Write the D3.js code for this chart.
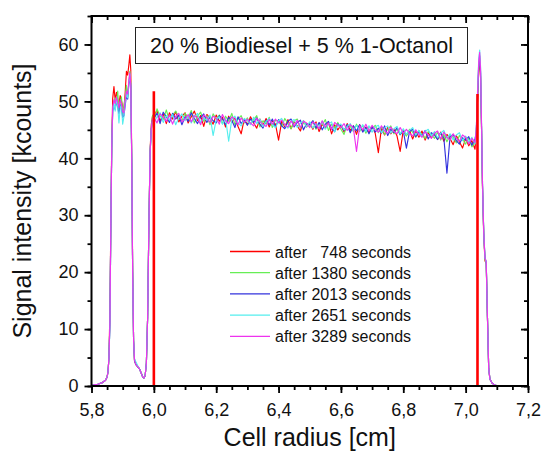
<!DOCTYPE html>
<html><head><meta charset="utf-8">
<script src="https://cdn.jsdelivr.net/npm/d3@7"></script>
<style>body{margin:0;background:#fff}svg{display:block}text{font-family:Arial,"Liberation Sans",sans-serif;fill:#111}</style>
</head><body><svg id="c" width="544" height="456"></svg>
<script>
// ---- data ----
const radius = [
5.800,5.820,5.835,5.845,5.850,5.853,5.856,5.859,5.862,5.865,5.868,5.872,5.876,5.880,5.884,5.888,5.892,5.896,5.900,5.904,5.908,5.912,5.916,5.920,5.923,5.926,5.929,5.932,5.935,5.938,5.942,5.948,5.954,5.960,5.964,5.968,5.972,5.976,5.980,5.984,5.988,5.992,5.996,
6.00,6.01,6.02,6.03,6.04,6.05,6.06,6.07,6.08,6.09,6.10,6.11,6.12,6.13,6.14,6.15,6.16,6.17,6.18,6.19,6.20,6.21,6.22,6.23,6.24,6.25,6.26,6.27,6.28,6.29,6.30,6.31,6.32,6.33,6.34,6.35,6.36,6.37,6.38,6.39,6.40,6.41,6.42,6.43,6.44,6.45,6.46,6.47,6.48,6.49,6.50,6.51,6.52,6.53,6.54,6.55,6.56,6.57,6.58,6.59,6.60,6.61,6.62,6.63,6.64,6.65,6.66,6.67,6.68,6.69,6.70,6.71,6.72,6.73,6.74,6.75,6.76,6.77,6.78,6.79,6.80,6.81,6.82,6.83,6.84,6.85,6.86,6.87,6.88,6.89,6.90,6.91,6.92,6.93,6.94,6.95,6.96,6.97,6.98,6.99,7.00,7.01,7.02,7.03,
7.034,7.038,7.042,7.045,7.048,7.051,7.054,7.058,7.062,7.066,7.070,7.074,7.078,7.085,7.095,7.110];

const s748 = [
0.1,0.3,0.6,1.0,1.6,2.5,5.0,13.0,28.5,43.0,50.5,52.6,50.2,51.6,50.4,49.5,51.0,50.2,49.0,48.6,51.5,55.3,54.6,56.5,58.2,55.5,40.5,20.5,8.0,4.5,3.8,3.4,3.0,2.2,1.6,1.4,1.8,4.0,12.0,28.0,41.5,46.0,47.5,
47.5,48.4,46.5,47.8,46.1,48.0,46.9,48.2,46.4,47.4,
48.0,46.2,47.3,48.3,46.6,47.5,45.6,47.7,47.0,46.0,
47.6,46.5,47.2,45.5,47.4,46.3,47.1,45.6,44.3,46.9,
45.9,47.3,46.2,45.3,46.9,45.8,47.0,45.5,46.6,46.0,
43.2,46.5,45.5,46.8,45.2,46.4,45.7,44.8,46.6,45.5,
46.2,45.1,46.4,44.7,46.0,45.3,46.3,44.3,45.9,45.0,
45.8,44.6,46.1,44.9,45.7,44.2,45.9,44.8,45.5,44.5,
45.6,44.4,41.0,45.3,44.1,45.4,44.3,45.1,43.9,41.2,
45.0,44.0,44.9,43.4,44.7,43.7,44.8,43.2,44.5,43.6,
44.4,43.3,44.6,43.0,44.2,43.5,42.4,44.0,42.9,41.8,
43.5,42.2,43.1,41.6,
44.0,50.0,55.5,57.0,54.0,45.0,35.0,26.5,22.0,21.5,12.0,3.0,1.2,0.5,0.1,0.0];

const s1380 = [
0.1,0.3,0.6,1.0,1.6,2.5,5.0,11.0,28.0,42.0,48.6,50.0,50.6,49.6,51.8,48.2,49.6,50.8,47.6,49.2,50.6,52.8,50.9,53.5,55.3,53.2,40.2,20.0,8.0,4.5,3.8,3.4,3.0,2.2,1.6,1.4,1.8,4.0,12.0,28.0,41.0,45.8,47.6,
46.6,48.7,47.4,46.8,48.5,46.5,47.6,48.3,47.2,46.6,
47.9,47.1,48.4,46.2,47.4,48.1,46.5,47.5,45.9,47.8,
46.9,47.6,46.1,47.4,46.5,47.9,45.9,46.9,47.5,46.2,
47.1,46.0,46.8,47.5,45.5,46.6,46.0,47.2,45.4,46.7,
46.5,45.6,47.0,46.1,45.2,46.6,46.9,45.3,46.2,46.0,
45.6,46.6,45.1,46.2,45.9,46.8,44.9,46.0,45.3,46.3,
45.1,44.2,45.9,45.6,44.7,46.0,44.7,45.8,44.4,45.6,
45.2,45.8,44.5,45.5,44.2,45.1,45.7,44.3,45.2,44.1,
44.9,43.9,45.1,44.6,43.7,44.9,44.1,43.5,44.7,44.2,
43.5,44.6,43.2,44.2,42.9,44.1,43.7,42.7,44.0,43.4,
42.5,43.6,42.0,42.7,
44.5,50.0,56.0,57.5,54.5,45.0,35.0,27.0,22.2,21.5,12.0,3.0,1.2,0.5,0.1,0.0];

const s2013 = [
0.1,0.3,0.6,1.0,1.6,2.5,5.0,11.0,28.0,42.0,48.3,49.2,48.6,50.2,49.0,47.8,49.4,48.8,47.2,47.5,49.3,51.0,50.4,53.1,54.4,52.6,39.8,20.0,8.0,4.5,3.8,3.4,3.0,2.2,1.6,1.4,1.8,4.0,12.0,28.0,41.0,45.2,46.8,
47.0,47.9,46.1,48.1,47.3,46.3,47.9,46.9,47.6,45.9,
47.3,46.5,48.0,47.0,46.1,47.2,47.8,46.3,47.3,46.6,
46.2,47.5,46.9,45.9,47.2,46.7,45.4,47.3,46.1,46.8,
45.8,46.9,46.3,47.1,46.0,45.3,46.7,45.9,46.9,45.5,
46.8,45.7,45.2,46.5,46.9,45.5,46.3,46.7,45.0,46.1,
45.9,46.6,45.3,46.3,45.0,46.0,46.5,45.2,44.7,46.0,
45.8,44.9,45.9,44.5,45.7,44.8,45.9,44.6,45.4,44.3,
45.5,44.6,45.3,44.4,45.7,44.0,45.1,44.5,45.4,44.2,
44.8,41.8,44.7,45.1,43.8,44.7,43.9,44.9,43.4,44.5,
44.1,43.3,44.5,43.6,37.4,43.8,44.2,43.1,42.5,43.6,
43.2,43.8,42.3,43.4,
44.5,50.5,56.5,58.0,55.0,45.5,35.5,27.0,22.5,21.8,12.0,3.0,1.2,0.5,0.1,0.0];

const s2651 = [
0.1,0.3,0.6,1.0,1.6,2.5,5.0,10.5,28.0,42.0,48.0,49.8,48.3,50.5,49.2,46.2,48.8,49.5,46.0,47.3,49.8,51.4,50.6,53.4,54.8,52.8,40.0,20.0,8.0,4.8,4.3,3.6,3.0,2.2,1.6,1.4,1.8,4.0,12.0,28.0,41.0,45.0,46.5,
46.2,47.3,48.0,46.3,47.5,46.7,47.7,45.9,47.1,47.8,
46.6,47.5,46.2,47.3,47.9,46.3,47.1,46.7,47.6,44.0,
46.8,47.3,46.0,47.0,43.0,46.9,47.4,46.2,45.7,47.0,
46.6,45.9,47.2,46.1,46.9,45.6,46.5,47.0,45.9,45.4,
46.6,47.0,45.8,45.3,46.5,46.8,45.4,46.2,46.6,45.5,
46.4,45.3,46.1,45.6,46.5,45.1,46.0,46.4,44.6,45.8,
46.0,45.0,45.6,46.1,44.8,45.8,44.9,45.9,44.7,45.7,
44.6,45.5,45.8,44.5,45.3,45.7,44.4,45.2,45.6,44.3,
45.2,44.2,44.9,45.4,44.1,44.9,43.8,44.7,45.1,43.9,
44.7,43.6,44.4,44.9,43.5,44.3,43.2,44.1,44.5,43.1,
43.9,42.9,43.7,42.5,
45.0,51.5,57.5,59.0,56.0,46.0,36.0,27.0,22.5,21.8,12.0,3.0,1.2,0.5,0.1,0.0];

const s3289 = [
0.1,0.3,0.6,1.0,1.6,2.5,5.0,11.0,28.0,42.0,49.0,50.3,49.6,50.8,49.8,48.9,50.3,49.6,48.2,48.0,50.1,51.8,51.3,53.8,55.0,53.0,40.0,20.0,8.0,4.5,3.8,3.4,3.0,2.2,1.6,1.4,1.8,4.0,12.0,28.0,41.0,45.5,47.0,
47.2,46.2,47.8,47.3,46.5,47.6,46.0,47.4,47.9,46.4,
46.9,47.7,46.4,47.5,47.1,45.9,47.6,47.2,46.3,47.4,
47.1,46.0,47.7,46.6,46.1,47.3,46.8,45.9,47.1,46.3,
46.9,46.2,45.7,47.0,46.4,46.0,45.6,46.8,46.0,46.9,
46.2,46.7,45.9,45.5,46.6,45.7,46.7,45.4,46.5,46.2,
45.4,46.4,46.0,45.2,46.6,45.5,46.2,45.1,46.3,45.8,
45.4,46.1,44.9,45.9,45.3,41.2,45.7,45.0,46.0,44.8,
45.8,45.0,44.6,45.7,44.8,44.4,45.5,44.7,44.3,45.4,
44.4,45.1,44.4,43.9,45.0,44.2,43.7,44.7,44.1,43.5,
44.4,44.8,43.4,44.6,43.7,43.2,44.3,43.5,43.0,44.1,
43.7,42.5,43.5,42.8,
45.0,51.0,57.0,58.6,55.5,46.0,36.0,27.0,22.5,21.8,12.0,3.0,1.2,0.5,0.1,0.0];

const seriesNames = ["after \u2007748 seconds","after 1380 seconds","after 2013 seconds","after 2651 seconds","after 3289 seconds"];
const seriesColors = ["#ff0000","#66ee55","#3333dd","#55eeee","#ee33ee"];
const seriesValues = [s748, s1380, s2013, s2651, s3289];
// red meniscus / bottom markers of first scan
const markerRadius = [6.000, 7.038];
const markerHeight = [51.8, 51.3];
const xTicks = [5.8,6.0,6.2,6.4,6.6,6.8,7.0,7.2];
const yTicks = [0,10,20,30,40,50,60];
const title = "20 % Biodiesel + 5 % 1-Octanol";
const xLabel = "Cell radius [cm]";
const yLabel = "Signal intensity [kcounts]";

// ---- chart ----
const svg = d3.select("#c");
const L = 91.5, R = 528, T = 16, B = 386;
const x = d3.scaleLinear().domain([5.8, 7.2]).range([L, R]);
const y = d3.scaleLinear().domain([0, 65]).range([B, T]);
const fmt = d => d3.format(".1f")(d).replace(".", ",");

svg.append("clipPath").attr("id","clip").append("rect").attr("x",L).attr("y",T).attr("width",R-L).attr("height",B-T);
const plot = svg.append("g").attr("clip-path","url(#clip)");

const line = d3.line().x((d,i)=>x(radius[i])).y(d=>y(d));
seriesValues.forEach((vals,k)=>{
  plot.append("path").datum(vals).attr("d",line).attr("fill","none")
    .attr("stroke",seriesColors[k]).attr("stroke-width",1.15).attr("stroke-linejoin","round");
});
plot.selectAll("line.marker").data(markerRadius).join("line").attr("class","marker")
  .attr("x1",d=>x(d)).attr("x2",d=>x(d)).attr("y1",y(0)).attr("y2",(d,i)=>y(markerHeight[i]))
  .attr("stroke","#ff0000").attr("stroke-width",2.6);

// axes
const minorX = d3.range(5.8, 7.2001, 0.05);
const minorY = d3.range(0, 65.001, 5);
const axB = svg.append("g").attr("transform",`translate(0,${B})`)
  .call(d3.axisBottom(x).tickValues(minorX).tickSize(4).tickFormat(""));
const axB2 = svg.append("g").attr("transform",`translate(0,${B})`)
  .call(d3.axisBottom(x).tickValues(xTicks).tickSize(7).tickPadding(10).tickFormat(fmt));
const axL = svg.append("g").attr("transform",`translate(${L},0)`)
  .call(d3.axisLeft(y).tickValues(minorY).tickSize(4).tickFormat(""));
const axL2 = svg.append("g").attr("transform",`translate(${L},0)`)
  .call(d3.axisLeft(y).tickValues(yTicks).tickSize(7).tickPadding(6).tickFormat(d3.format("d")));
const axT = svg.append("g").attr("transform",`translate(0,${T})`)
  .call(d3.axisTop(x).tickValues(minorX).tickSize(-4).tickFormat(""));
const axT2 = svg.append("g").attr("transform",`translate(0,${T})`)
  .call(d3.axisTop(x).tickValues(xTicks).tickSize(-7).tickFormat(""));
const axR = svg.append("g").attr("transform",`translate(${R},0)`)
  .call(d3.axisRight(y).tickValues(minorY).tickSize(-4).tickFormat(""));
const axR2 = svg.append("g").attr("transform",`translate(${R},0)`)
  .call(d3.axisRight(y).tickValues(yTicks).tickSize(-7).tickFormat(""));
[axB,axB2,axL,axL2,axT,axT2,axR,axR2].forEach(g=>{
  g.select(".domain").remove();
  g.selectAll(".tick line").attr("stroke","#000").attr("stroke-width",1.8);
  g.selectAll(".tick text").attr("font-size",18).attr("fill","#111").attr("font-family","Arial, 'Liberation Sans', sans-serif");
});
svg.append("rect").attr("x",L).attr("y",T).attr("width",R-L).attr("height",B-T)
  .attr("fill","none").attr("stroke","#000").attr("stroke-width",2);

// title box
svg.append("rect").attr("x",135.5).attr("y",27.5).attr("width",332).attr("height",36)
  .attr("fill","#fff").attr("stroke","#222").attr("stroke-width",1);
svg.append("text").attr("x",301.5).attr("y",53).attr("text-anchor","middle").attr("font-size",21.5).text(title);

// legend
const lg = svg.append("g");
seriesNames.forEach((n,k)=>{
  const yy = 251.5 + k*21.2;
  lg.append("line").attr("x1",230).attr("x2",270).attr("y1",yy).attr("y2",yy)
    .attr("stroke",seriesColors[k]).attr("stroke-width",1.3);
  lg.append("text").attr("x",275).attr("y",yy+6).attr("font-size",16).style("white-space","pre").text(n);
});

// axis titles
svg.append("text").attr("x",(L+R)/2).attr("y",446).attr("text-anchor","middle").attr("font-size",25).text(xLabel);
svg.append("text").attr("transform",`translate(31,${(T+B)/2}) rotate(-90)`).attr("text-anchor","middle").attr("font-size",25).text(yLabel);
</script></body></html>
